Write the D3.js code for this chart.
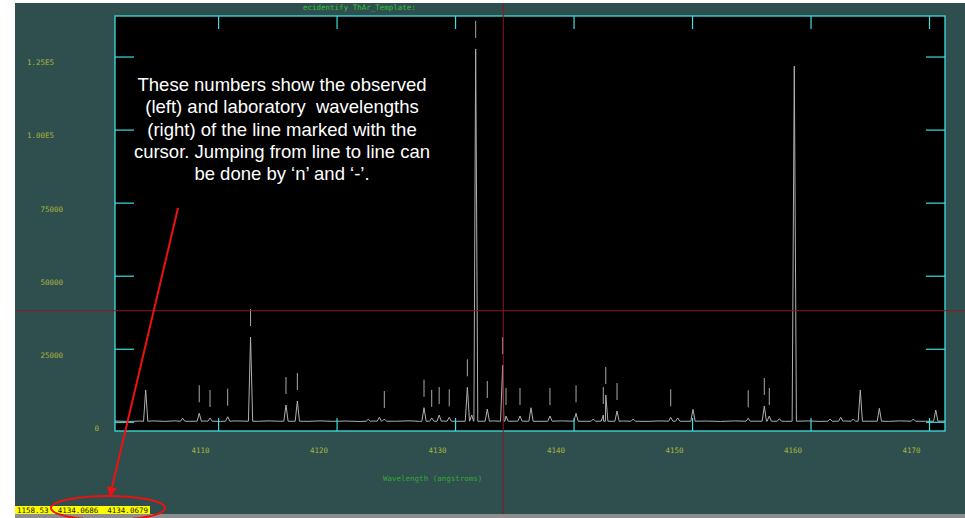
<!DOCTYPE html>
<html>
<head>
<meta charset="utf-8">
<script src="https://cdn.jsdelivr.net/npm/d3@7"></script>
<style>
  html, body { margin: 0; padding: 0; background: #ffffff; }
  svg { display: block; }
</style>
</head>
<body>
<div id="chart"></div>
<script>
// emission lines (wavelength in angstroms, peak counts)
const lineWave = [4103.89, 4107.01, 4108.41, 4109.32, 4110.81, 4112.74, 4115.73, 4116.69,
  4122.68, 4123.61, 4124.03, 4127.38, 4128.03, 4128.66, 4129.51, 4131.04, 4131.41, 4131.74,
  4132.72, 4134.02, 4134.30, 4135.48, 4136.41, 4138.01, 4140.21, 4141.67, 4142.51, 4142.72,
  4143.67, 4145.04, 4148.20, 4148.79, 4150.08, 4154.74, 4156.10, 4156.52, 4157.37, 4158.63,
  4161.65, 4162.55, 4163.61, 4164.20, 4165.81, 4168.68, 4170.57];
const lineFlux = [10880, 1230, 2900, 1300, 1740, 29000, 5750, 7100,
  850, 1540, 950, 4820, 1330, 2320, 1540, 11800, 2320, 127600,
  4380, 19400, 1980, 1980, 4820, 1980, 2900, 950, 2320, 9170,
  3690, 950, 1540, 1300, 4270, 1200, 5400, 1980, 1060, 121700,
  950, 1540, 950, 10880, 4620, 950, 4040];

// lines identified against the ThAr template (get a marker above them)
const markedWave = [4108.41, 4109.32, 4110.81, 4112.74, 4115.73, 4116.69, 4124.03, 4127.38,
  4128.03, 4128.66, 4129.51, 4131.04, 4131.74, 4132.72, 4134.02, 4134.30, 4135.48, 4138.01,
  4140.21, 4142.51, 4142.72, 4143.67, 4148.20, 4154.74, 4156.10, 4156.52];

// continuum level between the lines
const baseWave = [4101.3, 4102.5, 4103.4, 4104.6, 4105.5, 4106.3, 4107.6, 4108.9, 4110.2, 4111.5,
  4113.4, 4114.3, 4115.1, 4117.5, 4118.6, 4119.7, 4120.8, 4121.9, 4123.1, 4125.0, 4126.2,
  4127.0, 4129.0, 4130.2, 4133.2, 4135.0, 4137.0, 4139.0, 4141.0, 4144.2, 4146.2, 4147.3,
  4149.4, 4151.2, 4152.4, 4153.6, 4155.4, 4157.9, 4159.8, 4160.8, 4162.9, 4165.0, 4166.6,
  4167.6, 4169.7, 4171.35];
const baseFlux = [250, 120, 260, 300, 150, 320, 180, 280, 140, 300,
  180, 320, 200, 150, 310, 170, 260, 120, 280, 200, 330,
  150, 260, 180, 300, 220, 160, 300, 180, 260, 140, 300,
  180, 260, 130, 300, 220, 160, 300, 140, 280, 200, 150,
  320, 180, 250];

const xTicks = [4110, 4120, 4130, 4140, 4150, 4160, 4170];
const yTicks = [0, 25000, 50000, 75000, 100000, 125000];
const yTickLabels = ["0", "25000", "50000", "75000", "1.00E5", "1.25E5"];

const titleText = "ecidentify ThAr_Template:";
const xTitle = "Wavelength (angstroms)";
const cursorWave = 4134.0686;
const cursorFlux = 38000;
const statusText = ["1158.53", "4134.0686", "4134.0679"];
const noteLines = [
  "These numbers show the observed",
  "(left) and laboratory  wavelengths",
  "(right) of the line marked with the",
  "cursor. Jumping from line to line can",
  "be done by \u2018n\u2019 and \u2018-\u2019."
];

const W = 965, H = 518;
const frame = { left: 115, right: 945, top: 16, bottom: 431 };
const mono = "'DejaVu Sans Mono', monospace";
const labelColor = "#a8b43c";
const cyan = "#3ce0e0";
const cursorColor = "#8a1a1a";

const svg = d3.select("#chart").append("svg")
  .attr("width", W).attr("height", H);

// graphics window
svg.append("rect").attr("x", 15).attr("y", 3).attr("width", W - 15).attr("height", 511)
  .attr("fill", "#2f4f4f");
svg.append("rect").attr("x", 15).attr("y", 514).attr("width", W - 15).attr("height", 4)
  .attr("fill", "#8e8e8e");

const x = d3.scaleLinear().domain([4101.3, 4171.35]).range([frame.left, frame.right]);
const y = d3.scaleLinear().domain([-3150, 138870]).range([frame.bottom, frame.top]);

svg.append("rect")
  .attr("x", frame.left).attr("y", frame.top)
  .attr("width", frame.right - frame.left).attr("height", frame.bottom - frame.top)
  .attr("fill", "#000");

// build spectrum from continuum points plus a narrow spike for every line
const pts = baseWave.map((w, i) => [w, baseFlux[i]]);
lineWave.forEach((w, i) => {
  pts.push([w - 0.18, 200], [w, lineFlux[i]], [w + 0.18, 200]);
});
pts.sort((a, b) => a[0] - b[0]);

svg.append("clipPath").attr("id", "clip").append("rect")
  .attr("x", frame.left).attr("y", frame.top)
  .attr("width", frame.right - frame.left).attr("height", frame.bottom - frame.top);

const plot = svg.append("g").attr("clip-path", "url(#clip)");
plot.append("path")
  .datum(pts)
  .attr("fill", "none")
  .attr("stroke", "#b0b0b0")
  .attr("stroke-width", 1)
  .attr("d", d3.line().x(d => x(d[0])).y(d => y(d[1])));

// identification markers above the peaks
plot.selectAll(".mark")
  .data(markedWave)
  .join("line")
  .attr("class", "mark")
  .attr("x1", d => x(d)).attr("x2", d => x(d))
  .attr("y1", d => y(lineFlux[lineWave.indexOf(d)]) - 28)
  .attr("y2", d => y(lineFlux[lineWave.indexOf(d)]) - 11)
  .attr("stroke", "#a8a8a8")
  .attr("stroke-width", 1);

// axes (ticks pointing inward, IRAF style)
const styleAxis = g => {
  g.select(".domain").remove();
  g.selectAll(".tick line").attr("stroke", cyan).attr("stroke-width", 1.2);
  g.selectAll("text").attr("fill", labelColor).style("font-family", mono).style("font-size", "7.5px");
};

svg.append("g")
  .attr("transform", `translate(0,${frame.bottom})`)
  .call(d3.axisBottom(x).tickValues(xTicks).tickSize(-13).tickPadding(0).tickFormat(d3.format("d")))
  .call(styleAxis)
  .call(g => g.selectAll("text").attr("x", -18).attr("y", 22).attr("dy", 0));

svg.append("g")
  .attr("transform", `translate(0,${frame.top})`)
  .call(d3.axisTop(x).tickValues(xTicks).tickSize(-13).tickFormat(""))
  .call(styleAxis);

svg.append("g")
  .attr("transform", `translate(${frame.left},0)`)
  .call(d3.axisLeft(y).tickValues(yTicks).tickSize(-19)
    .tickFormat((d, i) => yTickLabels[i]))
  .call(styleAxis)
  .call(g => g.selectAll("text")
    .attr("text-anchor", "end")
    .attr("x", d => 99 - (yTickLabels[yTicks.indexOf(d)].length - 1) * 9 - frame.left)
    .attr("dy", "0.32em")
    .attr("y", 6));

svg.append("g")
  .attr("transform", `translate(${frame.right},0)`)
  .call(d3.axisRight(y).tickValues(yTicks).tickSize(-19).tickFormat(""))
  .call(styleAxis);

svg.append("rect")
  .attr("x", frame.left).attr("y", frame.top)
  .attr("width", frame.right - frame.left).attr("height", frame.bottom - frame.top)
  .attr("fill", "none").attr("stroke", cyan).attr("stroke-width", 1.3);

// titles
svg.append("text").attr("x", 303).attr("y", 9.5)
  .attr("fill", "#34c234").style("font-family", mono).style("font-size", "7.5px")
  .text(titleText);
svg.append("text").attr("x", 383).attr("y", 481)
  .attr("fill", "#34a834").style("font-family", mono).style("font-size", "7.5px")
  .text(xTitle);

// cursor cross-hair
svg.append("line")
  .attr("x1", x(cursorWave)).attr("x2", x(cursorWave)).attr("y1", 3).attr("y2", 514)
  .attr("stroke", cursorColor).attr("stroke-width", 1);
svg.append("line")
  .attr("x1", 15).attr("x2", W).attr("y1", y(cursorFlux)).attr("y2", y(cursorFlux))
  .attr("stroke", cursorColor).attr("stroke-width", 1);

// status line
svg.append("rect").attr("x", 15).attr("y", 506).attr("width", 135).attr("height", 8)
  .attr("fill", "#ffff00");
svg.append("text").attr("x", 17).attr("y", 513)
  .attr("fill", "#202000").style("font-family", mono).style("font-size", "7.5px")
  .style("white-space", "pre")
  .text(statusText.join("  "));

// annotation
svg.append("text")
  .attr("text-anchor", "middle")
  .attr("fill", "#ffffff")
  .style("font-family", "'Liberation Sans', Arial, sans-serif")
  .style("font-size", "18.5px")
  .style("white-space", "pre")
  .selectAll("tspan")
  .data(noteLines)
  .join("tspan")
  .attr("x", 282)
  .attr("y", (d, i) => 91 + i * 22.3)
  .text(d => d);

svg.append("defs").append("marker")
  .attr("id", "arrow").attr("viewBox", "0 0 10 10")
  .attr("refX", 9).attr("refY", 5)
  .attr("markerWidth", 5).attr("markerHeight", 5)
  .attr("orient", "auto")
  .append("path").attr("d", "M0,0L10,5L0,10Z").attr("fill", "#ee1111");

svg.append("line")
  .attr("x1", 178).attr("y1", 208).attr("x2", 110).attr("y2", 496)
  .attr("stroke", "#ee1111").attr("stroke-width", 2)
  .attr("marker-end", "url(#arrow)");

svg.append("ellipse")
  .attr("cx", 108).attr("cy", 508).attr("rx", 57).attr("ry", 12)
  .attr("fill", "none").attr("stroke", "#ee1111").attr("stroke-width", 2);
</script>
</body>
</html>
